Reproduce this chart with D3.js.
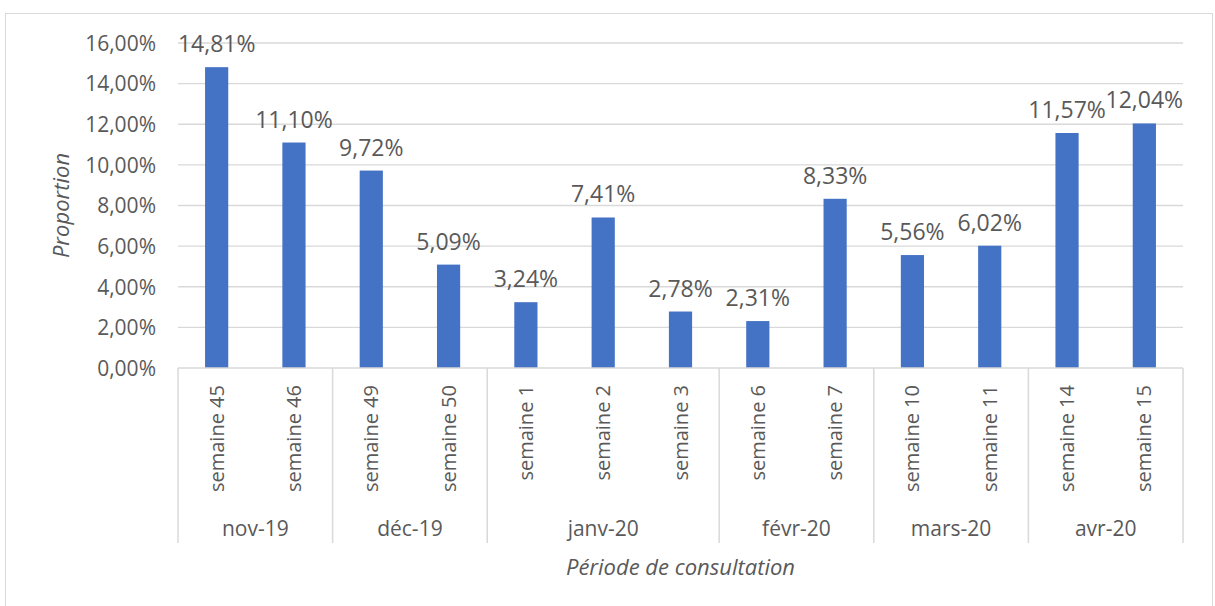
<!DOCTYPE html>
<html>
<head>
<meta charset="utf-8">
<script src="https://cdn.jsdelivr.net/npm/d3@7"></script>
<style>
  body { margin: 0; background: #fff; }
  text { font-family: "Open Sans", "Noto Sans", sans-serif; fill: #595959; }
</style>
</head>
<body>
<svg id="chart"></svg>
<script>
const weeks = ['semaine 45', 'semaine 46', 'semaine 49', 'semaine 50', 'semaine 1', 'semaine 2', 'semaine 3',
  'semaine 6', 'semaine 7', 'semaine 10', 'semaine 11', 'semaine 14', 'semaine 15'];
const months = ['nov-19', 'nov-19', 'déc-19', 'déc-19', 'janv-20', 'janv-20', 'janv-20',
  'févr-20', 'févr-20', 'mars-20', 'mars-20', 'avr-20', 'avr-20'];
const values = [14.81, 11.10, 9.72, 5.09, 3.24, 7.41, 2.78, 2.31, 8.33, 5.56, 6.02, 11.57, 12.04];
const yTicks = [0, 2, 4, 6, 8, 10, 12, 14, 16];

const W = 1215, H = 606;
const margin = {top: 43, right: 32, bottom: 238, left: 178};
const width = W - margin.left - margin.right;
const height = H - margin.top - margin.bottom;

const fmt = v => d3.format('.2f')(v).replace('.', ',') + '%';

const svg = d3.select('#chart').attr('width', W).attr('height', H);

// chart frame
svg.append('rect')
  .attr('x', 5.5).attr('y', 13.5)
  .attr('width', 1207).attr('height', 600)
  .attr('fill', 'none').attr('stroke', '#d9d9d9');

const g = svg.append('g').attr('transform', `translate(${margin.left},${margin.top})`);

const x = d3.scaleBand().domain(d3.range(weeks.length)).range([0, width]).paddingInner(0.7).paddingOuter(0.35);
const y = d3.scaleLinear().domain([0, 16]).range([height, 0]);

// gridlines
g.append('g').selectAll('line').data(yTicks.slice(1)).join('line')
  .attr('x1', 0).attr('x2', width)
  .attr('y1', d => y(d)).attr('y2', d => y(d))
  .attr('stroke', '#d9d9d9').attr('stroke-width', 1.3);

// y axis
const yAxis = g.append('g')
  .call(d3.axisLeft(y).tickValues(yTicks).tickSize(0).tickPadding(22).tickFormat(fmt));
yAxis.select('.domain').remove();
yAxis.selectAll('text').style('font-size', '21px').attr('dy', '0.35em');

// bars
g.append('g').selectAll('rect').data(values).join('rect')
  .attr('x', (d, i) => x(i))
  .attr('width', x.bandwidth())
  .attr('y', d => y(d))
  .attr('height', d => height - y(d))
  .attr('fill', '#4472c4');

// data labels
g.append('g').selectAll('text').data(values).join('text')
  .attr('x', (d, i) => x(i) + x.bandwidth() / 2)
  .attr('y', d => y(d) - 15)
  .attr('text-anchor', 'middle')
  .style('font-size', '23px')
  .text(d => fmt(d));

// x axis line
g.append('line')
  .attr('x1', 0).attr('x2', width)
  .attr('y1', height).attr('y2', height)
  .attr('stroke', '#d9d9d9').attr('stroke-width', 1.5);

// week labels (vertical)
g.append('g').selectAll('text').data(weeks).join('text')
  .attr('transform', (d, i) => `translate(${x(i) + x.bandwidth() / 2 + 7},${height + 17}) rotate(-90)`)
  .attr('text-anchor', 'end')
  .style('font-size', '20px')
  .text(d => d);

// month groups
const step = x.step();
const groups = [];
months.forEach((m, i) => {
  const last = groups[groups.length - 1];
  if (last && last.name === m) last.end = i;
  else groups.push({name: m, start: i, end: i});
});

const bounds = [0].concat(groups.map(gr => (gr.end + 1) * step));
g.append('g').selectAll('line').data(bounds).join('line')
  .attr('x1', d => d).attr('x2', d => d)
  .attr('y1', height).attr('y2', height + 175)
  .attr('stroke', '#d9d9d9').attr('stroke-width', 1.5);

g.append('g').selectAll('text').data(groups).join('text')
  .attr('x', d => (d.start + d.end + 1) / 2 * step)
  .attr('y', height + 168)
  .attr('text-anchor', 'middle')
  .style('font-size', '21px')
  .text(d => d.name);

// axis titles
svg.append('text')
  .attr('x', margin.left + width / 2)
  .attr('y', 575)
  .attr('text-anchor', 'middle')
  .style('font-size', '22px').style('font-style', 'italic')
  .text('Période de consultation');

svg.append('text')
  .attr('transform', `translate(69,${margin.top + height / 2}) rotate(-90)`)
  .attr('text-anchor', 'middle')
  .style('font-size', '22px').style('font-style', 'italic')
  .text('Proportion');
</script>
</body>
</html>
